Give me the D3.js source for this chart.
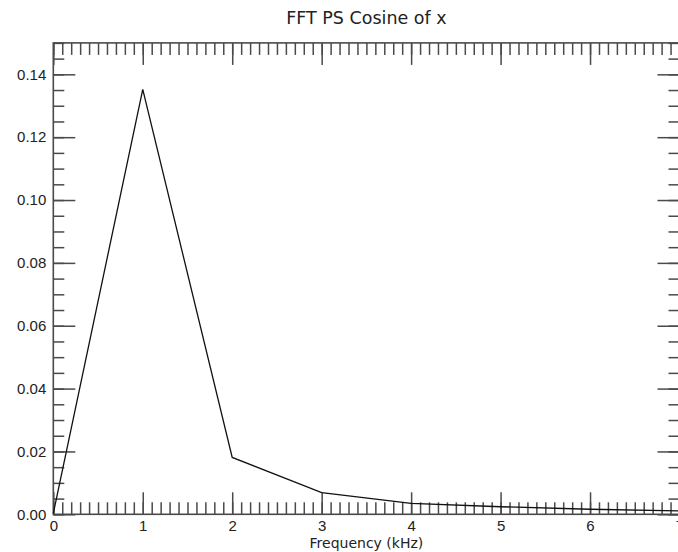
<!DOCTYPE html>
<html>
<head>
<meta charset="utf-8">
<script src="https://cdn.jsdelivr.net/npm/d3@7"></script>
<style>
  body { margin: 0; background: #fff; }
  svg { display: block; font-family: "DejaVu Sans", sans-serif; }
  .axis path { display: none; }
  .axis line { stroke: #4a4a4a; stroke-width: 1.5; }
  .axis text { fill: #222; font-size: 15px; }
</style>
</head>
<body>
<svg width="678" height="552"></svg>
<script>
"use strict";

// frequencia (kHz) e potencia do espectro
var freq = [0, 1, 2, 3, 4, 5, 6, 7];
var power = [0.0003, 0.1352, 0.0181, 0.0069, 0.0035, 0.0024, 0.0016, 0.0011];

var xMajor = [0, 1, 2, 3, 4, 5, 6, 7];
var yMajor = [0, 0.02, 0.04, 0.06, 0.08, 0.10, 0.12, 0.14];

var titulo = "FFT PS Cosine of x";
var rotuloX = "Frequency (kHz)";

var svg = d3.select("svg");

var margemEsq = 53.3, margemDir = 679.5, margemSup = 42.9, margemInf = 514.3;

var x = d3.scaleLinear().domain([0, 7]).range([margemEsq, margemDir]);
var y = d3.scaleLinear().domain([0, 0.15]).range([margemInf, margemSup]);

var xMinor = d3.range(0, 71).map(function (i) { return i / 10; });
var yMinor = d3.range(0, 31).map(function (i) { return i * 0.005; });

// ticks menores
svg.append("g").attr("class", "axis")
    .attr("transform", "translate(0," + margemInf + ")")
    .call(d3.axisBottom(x).tickValues(xMinor).tickSize(-12).tickFormat(""));
svg.append("g").attr("class", "axis")
    .attr("transform", "translate(0," + margemSup + ")")
    .call(d3.axisTop(x).tickValues(xMinor).tickSize(-12).tickFormat(""));
svg.append("g").attr("class", "axis")
    .attr("transform", "translate(" + margemEsq + ",0)")
    .call(d3.axisLeft(y).tickValues(yMinor).tickSize(-11).tickFormat(""));
svg.append("g").attr("class", "axis")
    .attr("transform", "translate(" + margemDir + ",0)")
    .call(d3.axisRight(y).tickValues(yMinor).tickSize(-11).tickFormat(""));

// ticks maiores
svg.append("g").attr("class", "axis")
    .attr("transform", "translate(0," + margemInf + ")")
    .call(d3.axisBottom(x).tickValues(xMajor).tickSize(-22).tickPadding(6)
        .tickFormat(d3.format("d")));
svg.append("g").attr("class", "axis")
    .attr("transform", "translate(0," + margemSup + ")")
    .call(d3.axisTop(x).tickValues(xMajor).tickSize(-22).tickFormat(""));
svg.append("g").attr("class", "axis")
    .attr("transform", "translate(" + margemEsq + ",0)")
    .call(d3.axisLeft(y).tickValues(yMajor).tickSize(-22).tickPadding(7)
        .tickFormat(d3.format(".2f")));
svg.append("g").attr("class", "axis")
    .attr("transform", "translate(" + margemDir + ",0)")
    .call(d3.axisRight(y).tickValues(yMajor).tickSize(-22).tickFormat(""));

// moldura
svg.append("rect")
    .attr("x", margemEsq)
    .attr("y", margemSup)
    .attr("width", margemDir - margemEsq)
    .attr("height", margemInf - margemSup)
    .attr("fill", "none")
    .attr("stroke", "#4a4a4a")
    .attr("stroke-width", 1.6);

var linha = d3.line()
    .x(function (d, i) { return x(freq[i]); })
    .y(function (d) { return y(d); });

svg.append("path")
    .datum(power)
    .attr("d", linha)
    .attr("fill", "none")
    .attr("stroke", "#111")
    .attr("stroke-width", 1.3);

svg.append("text")
    .attr("x", (margemEsq + margemDir) / 2)
    .attr("y", 24)
    .attr("text-anchor", "middle")
    .style("font-size", "17.5px")
    .style("fill", "#222")
    .text(titulo);

svg.append("text")
    .attr("x", (margemEsq + margemDir) / 2)
    .attr("y", 548)
    .attr("text-anchor", "middle")
    .style("font-size", "14px")
    .style("fill", "#222")
    .text(rotuloX);
</script>
</body>
</html>
